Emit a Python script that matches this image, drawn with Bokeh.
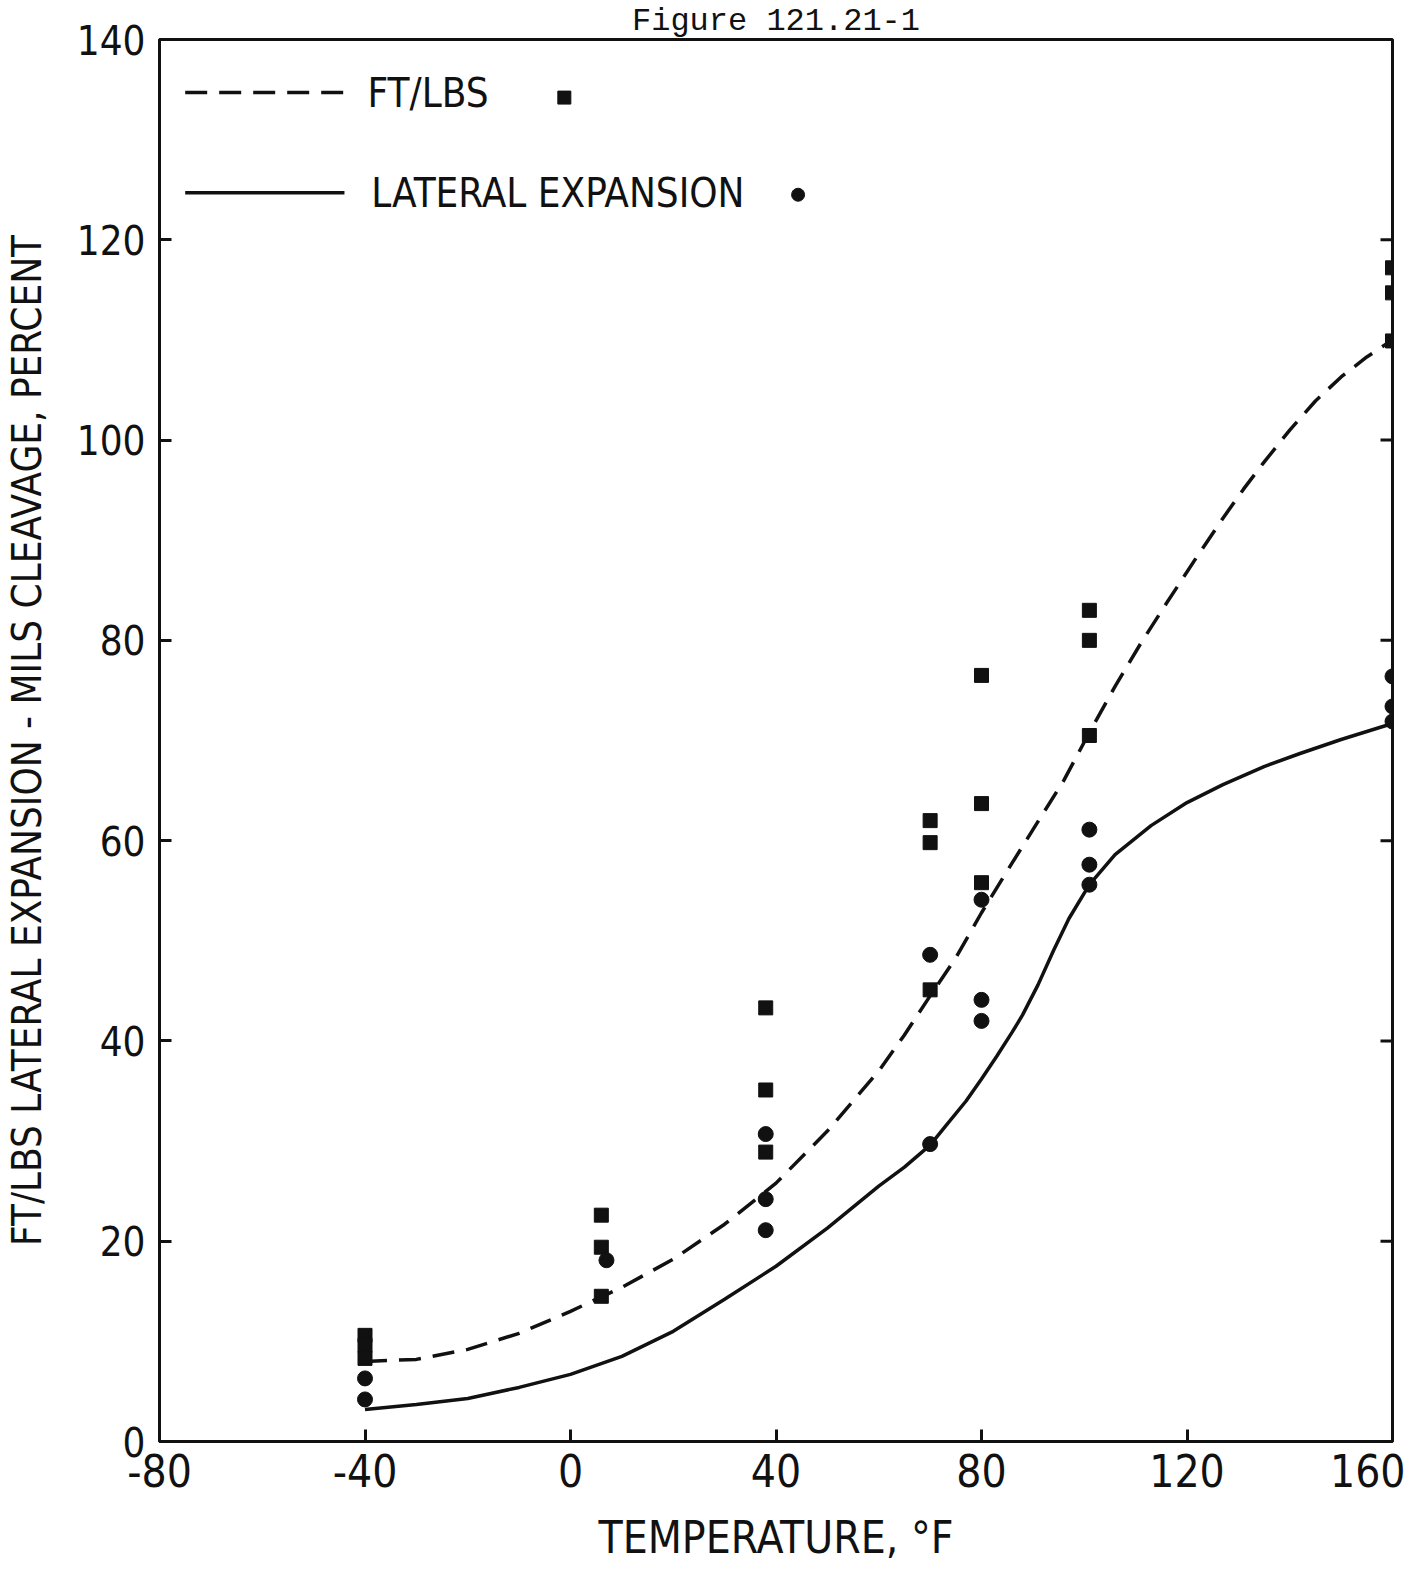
from bokeh.plotting import figure
from bokeh.models import Range1d, FixedTicker, Label
from bokeh.embed import file_html
from bokeh.resources import INLINE

# ---------------- data ----------------
# FT/LBS test points (squares)
ftlbs_temp = [-40, -40, -40, 6, 6, 6, 38, 38, 38, 70, 70, 70, 80, 80, 80,
              101, 101, 101, 160, 160, 160]
ftlbs_val = [10.6, 9.6, 8.3, 22.6, 19.4, 14.5, 43.3, 35.1, 28.9, 62.0, 59.8, 45.1,
             76.5, 63.7, 55.8, 83.0, 80.0, 70.5, 117.2, 114.7, 109.9]

# Lateral expansion test points (circles)
lat_temp = [-40, -40, 7, 38, 38, 38, 70, 70, 80, 80, 80, 101, 101, 101, 160, 160, 160]
lat_val = [6.3, 4.2, 18.1, 30.7, 24.2, 21.1, 48.6, 29.7, 54.1, 44.1, 42.0,
           61.1, 57.6, 55.6, 76.4, 73.4, 71.9]

# Faired curve through FT/LBS (dashed)
ft_curve_t = [-40, -30, -20, -10, 0, 10, 20, 30, 40, 50, 60, 65, 70, 75, 80, 86, 90.5,
              96, 101, 106, 111, 116, 122, 127, 131, 135, 140, 145, 150, 155, 160]
ft_curve_v = [8.0, 8.2, 9.2, 10.8, 13.0, 15.4, 18.2, 21.7, 25.8, 31.0, 37.0, 40.6, 44.5,
              48.3, 52.8, 57.8, 61.5, 66.0, 70.8, 75.4, 79.7, 83.7, 88.4, 92.2, 95.1,
              97.8, 101.0, 103.9, 106.3, 108.3, 110.0]

# Faired curve through lateral expansion (solid)
lat_curve_t = [-40, -30, -20, -10, 0, 10, 20, 30, 40, 50, 60, 65, 70, 73, 77, 80, 83,
               86, 88, 91, 94, 97, 101, 106, 113, 120, 127, 135, 142, 150, 160]
lat_curve_v = [3.2, 3.7, 4.3, 5.4, 6.7, 8.5, 11.0, 14.2, 17.5, 21.3, 25.5, 27.4, 29.6,
               31.5, 34.0, 36.2, 38.5, 40.9, 42.6, 45.6, 49.0, 52.2, 55.6, 58.6, 61.5,
               63.8, 65.6, 67.4, 68.7, 70.1, 71.7]

x_ticks = [-80, -40, 0, 40, 80, 120, 160]
x_tick_labels = ["-80", "-40", "0", "40", "80", "120", "160"]
y_ticks = [0, 20, 40, 60, 80, 100, 120, 140]
right_ticks = [20, 40, 60, 80, 100, 120]

series_names = ["FT/LBS", "LATERAL EXPANSION"]
title_text = "Figure 121.21-1"
x_label = "TEMPERATURE, \u00b0F"
y_label = "FT/LBS LATERAL EXPANSION - MILS CLEAVAGE, PERCENT"

# ---------------- styling ----------------
FONT = "'DejaVu Sans Condensed', 'Liberation Sans Narrow', 'Noto Sans', sans-serif"
INK = "#111111"

p = figure(width=1405, height=1565,
           x_range=Range1d(-80, 160), y_range=Range1d(0, 140),
           output_backend="svg", toolbar_location=None,
           min_border_left=155, min_border_right=13,
           min_border_top=37, min_border_bottom=120)
p.background_fill_color = "white"
p.border_fill_color = "white"
p.grid.visible = False
p.outline_line_color = INK
p.outline_line_width = 3

# caption of the sheet
p.title.text = title_text
p.title.align = "center"
p.title.text_font = "'Liberation Mono', 'DejaVu Sans Mono', monospace"
p.title.text_font_size = "32px"
p.title.text_font_style = "normal"
p.title.text_color = INK
p.title.standoff = 0

for ax in (p.xaxis[0], p.yaxis[0]):
    ax.axis_line_width = 3
    ax.axis_line_color = INK
    ax.major_tick_in = 12
    ax.major_tick_out = 0
    ax.major_tick_line_width = 3
    ax.major_tick_line_color = INK
    ax.minor_tick_line_color = None
    ax.major_label_text_font = FONT
    ax.major_label_text_color = INK
    ax.axis_label_text_font = FONT
    ax.axis_label_text_font_style = "normal"
    ax.axis_label_text_color = INK

p.xaxis.ticker = FixedTicker(ticks=x_ticks)
p.xaxis.major_label_overrides = {t: s for t, s in zip(x_ticks, x_tick_labels)}
p.yaxis.ticker = FixedTicker(ticks=y_ticks)
p.xaxis.major_label_text_font_size = "44px"
p.yaxis.major_label_text_font_size = "40px"
p.xaxis.major_label_standoff = 12
p.yaxis.major_label_standoff = 14
p.xaxis.axis_label = x_label
p.yaxis.axis_label = y_label
p.xaxis.axis_label_text_font_size = "44px"
p.yaxis.axis_label_text_font_size = "40px"
p.xaxis.axis_label_standoff = 22
p.yaxis.axis_label_standoff = 24

# inward ticks on the right-hand border (half of each dash is clipped by the frame)
p.scatter([160] * len(right_ticks), right_ticks, marker="dash", size=24,
          line_color=INK, line_width=3)

# curves
p.line(ft_curve_t, ft_curve_v, line_color=INK, line_width=3.5, line_dash="22 12")
p.line(lat_curve_t, lat_curve_v, line_color=INK, line_width=3.5)

# test points
p.scatter(ftlbs_temp, ftlbs_val, marker="square", size=14,
          fill_color=INK, line_color=INK)
p.scatter(lat_temp, lat_val, marker="circle", size=15,
          fill_color=INK, line_color=INK)

# legend (drawn as in the original: line, label, then marker)
leg_y = [134.7, 124.7]
p.line([-75, -44], [leg_y[0], leg_y[0]], line_color=INK, line_width=3.5, line_dash="22 12")
p.line([-75, -44], [leg_y[1], leg_y[1]], line_color=INK, line_width=3.5)
p.add_layout(Label(x=-39.5, y=leg_y[0], text=series_names[0], text_font=FONT,
                   text_font_size="40px", text_baseline="middle", text_color=INK))
p.add_layout(Label(x=-38.8, y=leg_y[1], text=series_names[1], text_font=FONT,
                   text_font_size="40px", text_baseline="middle", text_color=INK))
p.scatter([-1.2], [134.2], marker="square", size=13, fill_color=INK, line_color=INK)
p.scatter([44.3], [124.5], marker="circle", size=13, fill_color=INK, line_color=INK)

open("out.html", "w").write(file_html(p, INLINE))
